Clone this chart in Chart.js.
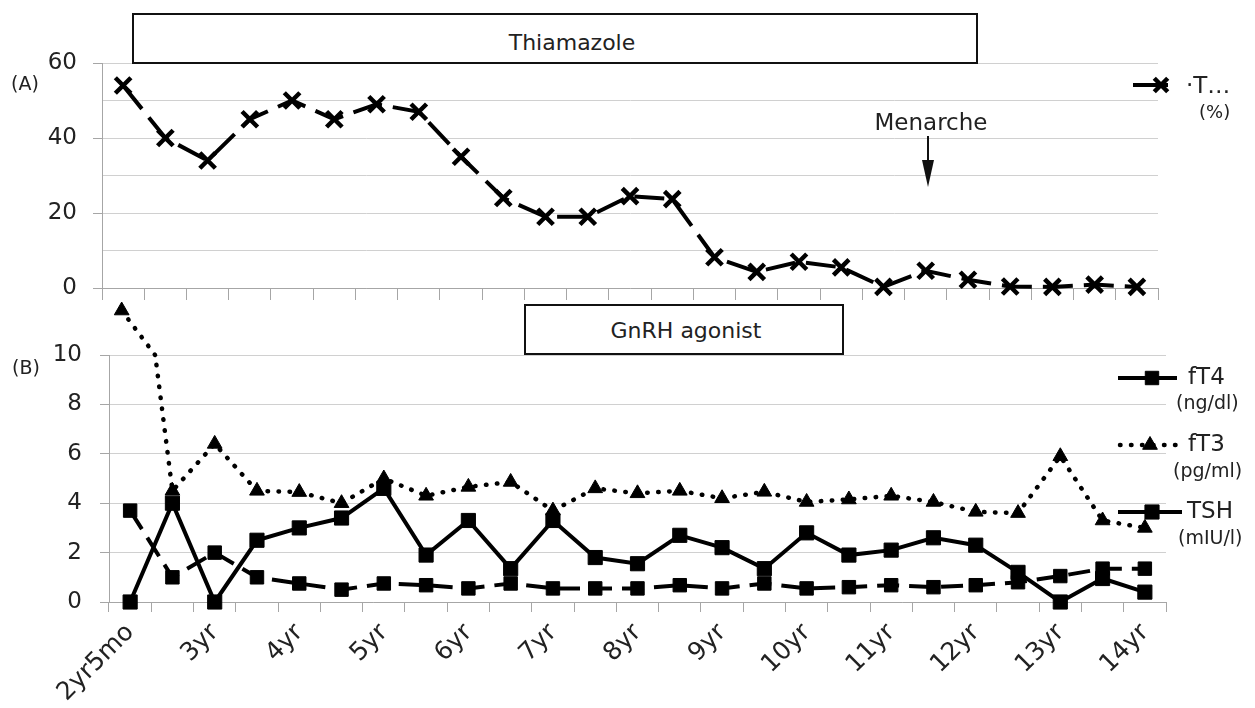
<!DOCTYPE html>
<html>
<head>
<meta charset="utf-8">
<script src="https://cdn.jsdelivr.net/npm/chart.js@4.4.0/dist/chart.umd.min.js"></script>
<style>
  body { margin: 0; background: #fff; }
  #wrap { position: relative; width: 1255px; height: 708px; font-family: "DejaVu Sans", sans-serif; color: #222; }
  canvas { position: absolute; left: 0; top: 0; }
  .box { position: absolute; border: 2px solid #111; box-sizing: border-box; background: #fff; }
  .txt { position: absolute; transform: translate(-50%, -50%); white-space: nowrap; }
</style>
</head>
<body>
<div id="wrap">
  <canvas id="topChart" width="1255" height="708"></canvas>
  <canvas id="bottomChart" width="1255" height="708"></canvas>

  <div class="box" style="left:132px;top:13px;width:846px;height:51px;"></div>
  <div class="txt" style="left:572px;top:42px;font-size:22px;">Thiamazole</div>

  <div class="box" style="left:524px;top:304px;width:320px;height:51px;"></div>
  <div class="txt" style="left:686px;top:330px;font-size:22px;">GnRH agonist</div>

  <div class="txt" style="left:931px;top:122px;font-size:23px;">Menarche</div>
  <svg style="position:absolute;left:918px;top:134px;" width="20" height="56">
    <line x1="10" y1="2" x2="10" y2="30" stroke="#111" stroke-width="2"/>
    <polygon points="4,26 16,26 10,53" fill="#111"/>
  </svg>

  <div class="txt" style="left:25px;top:83px;font-size:19px;">(A)</div>
  <div class="txt" style="left:26px;top:367px;font-size:19px;">(B)</div>
</div>

<script>
// visits (x categories), only every second one is labelled
const visits = ['2yr5mo', '', '3yr', '', '4yr', '', '5yr', '', '6yr', '', '7yr', '', '8yr',
                '', '9yr', '', '10yr', '', '11yr', '', '12yr', '', '13yr', '', '14yr'];

// (A) TRAb (%)
const trab = [54, 40, 34, 45, 50, 45, 49, 47, 35, 24, 19, 19, 24.5, 23.7, 8.2, 4.3, 7, 5.5,
              0.3, 4.6, 2.2, 0.4, 0.3, 0.9, 0.3];

// (B) thyroid values
const fT4 = [3.7, 1.0, 2.0, 1.0, 0.75, 0.5, 0.75, 0.68, 0.55, 0.75, 0.55, 0.55, 0.55, 0.68,
             0.55, 0.75, 0.55, 0.6, 0.68, 0.6, 0.68, 0.8, 1.05, 1.35, 1.35];
const fT3 = [18, 4.5, 6.4, 4.5, 4.45, 4.0, 5.0, 4.3, 4.66, 4.86, 3.7, 4.6, 4.4, 4.5, 4.2,
             4.46, 4.05, 4.15, 4.3, 4.05, 3.65, 3.6, 5.9, 3.3, 3.0];
const tsh = [0, 4.0, 0, 2.5, 3.0, 3.4, 4.6, 1.9, 3.3, 1.35, 3.3, 1.8, 1.55, 2.7, 2.2, 1.35,
             2.8, 1.9, 2.1, 2.6, 2.3, 1.2, 0, 0.95, 0.4];
// first fT3 value is off the axis; the figure marks it above the plot
const fT3Note = [{ x: -0.2, y: 11.8 }, { x: 0.59, y: 10 }];

const FONT = '"DejaVu Sans", sans-serif';
const AXIS = '#a6a6a6';
const GRID = '#d0d0d0';

// legend drawn to the right of the plot, Excel style (line + marker + text)
const sideLegend = {
    id: 'sideLegend',
    afterDatasetsDraw(chart, args, opts) {
        const ctx = chart.ctx;
        ctx.save();
        opts.items.forEach(it => {
            const ds = chart.data.datasets.find(d => d.label === it.label);
            ctx.strokeStyle = ds.borderColor;
            ctx.lineWidth = ds.borderWidth;
            ctx.lineCap = ds.borderCapStyle || 'butt';
            ctx.setLineDash(it.dash || []);
            ctx.beginPath();
            ctx.moveTo(it.x1, it.y);
            ctx.lineTo(it.x2, it.y);
            ctx.stroke();
            ctx.setLineDash([]);
            ctx.lineCap = 'butt';
            ctx.fillStyle = ds.pointBackgroundColor;
            ctx.strokeStyle = ds.pointBorderColor;
            ctx.lineWidth = ds.pointBorderWidth;
            Chart.helpers.drawPoint(ctx, { pointStyle: ds.pointStyle, radius: it.r, rotation: 0, borderWidth: ds.pointBorderWidth }, it.mx, it.y);
            ctx.fillStyle = '#222';
            ctx.textAlign = 'left';
            ctx.textBaseline = 'middle';
            ctx.font = '23px ' + FONT;
            ctx.fillText(it.text, it.tx, it.ty || it.y);
            ctx.font = (it.us || 19) + 'px ' + FONT;
            ctx.fillText(it.unit, it.ux, it.uy);
        });
        ctx.restore();
    }
};

// Chart.js skips points outside the chart area, so draw the off-axis fT3 marker here
const offAxisMarker = {
    id: 'offAxisMarker',
    afterDatasetsDraw(chart) {
        const ctx = chart.ctx;
        const idx = chart.data.datasets.findIndex(d => d.label === 'fT3 note');
        const pt = chart.getDatasetMeta(idx).data[0];
        ctx.save();
        ctx.fillStyle = '#000';
        ctx.strokeStyle = '#000';
        ctx.lineWidth = 1;
        Chart.helpers.drawPoint(ctx, { pointStyle: 'triangle', radius: 8.5, rotation: 0, borderWidth: 1 }, pt.x, pt.y);
        ctx.restore();
    }
};

const topChart = new Chart(document.getElementById('topChart'), {
    type: 'line',
    data: {
        labels: visits,
        datasets: [{
            label: 'TRAb',
            data: trab,
            borderColor: '#000',
            borderWidth: 4,
            borderDash: [30, 11],
            pointStyle: 'crossRot',
            pointRadius: 11,
            pointBorderWidth: 4.5,
            pointBorderColor: '#000',
            pointBackgroundColor: '#000',
            tension: 0,
            clip: false
        }]
    },
    options: {
        responsive: false,
        animation: false,
        layout: { padding: { top: 63, right: 97, bottom: 408, left: 0 } },
        plugins: {
            legend: { display: false },
            tooltip: { enabled: false },
            sideLegend: {
                items: [{ label: 'TRAb', x1: 1133, x2: 1168, mx: 1161, y: 85, r: 9.5,
                          text: '\u00B7T\u2026', tx: 1186, ty: 87, unit: '(%)', ux: 1199, uy: 113, us: 18 }]
            }
        },
        scales: {
            x: {
                offset: true,
                grid: { offset: true, drawOnChartArea: false, tickLength: 12, color: AXIS },
                border: { color: AXIS },
                ticks: { display: false },
                afterFit(s) { s.height = 12; }
            },
            y: {
                min: 0,
                max: 60,
                ticks: {
                    stepSize: 10,
                    callback: v => v % 20 === 0 ? v : '',
                    font: { family: FONT, size: 23 },
                    color: '#222',
                    padding: 16
                },
                grid: {
                    color: GRID,
                    tickLength: 9,
                    tickColor: c => c.tick && c.tick.value % 20 === 0 ? AXIS : 'rgba(0,0,0,0)'
                },
                border: { color: AXIS },
                afterFit(s) { s.width = 102; }
            }
        }
    },
    plugins: [sideLegend]
});

const bottomChart = new Chart(document.getElementById('bottomChart'), {
    type: 'line',
    data: {
        labels: visits,
        datasets: [
            {
                label: 'TSH',
                data: tsh,
                borderColor: '#000',
                borderWidth: 4,
                pointStyle: 'rect',
                pointRadius: 10,
                pointBorderWidth: 1,
                pointBorderColor: '#000',
                pointBackgroundColor: '#000',
                tension: 0,
                clip: false,
                order: 0
            },
            {
                label: 'fT4',
                data: fT4,
                borderColor: '#000',
                borderWidth: 4,
                borderDash: [22, 10],
                pointStyle: 'rect',
                pointRadius: 9.5,
                pointBorderWidth: 1,
                pointBorderColor: '#000',
                pointBackgroundColor: '#000',
                tension: 0,
                clip: false,
                order: 1
            },
            {
                label: 'fT3',
                data: fT3,
                borderColor: '#000',
                borderWidth: 4.5,
                borderDash: [0.5, 10.5],
                borderCapStyle: 'round',
                pointStyle: 'triangle',
                pointRadius: 8.5,
                pointBorderWidth: 1,
                pointBorderColor: '#000',
                pointBackgroundColor: '#000',
                tension: 0,
                clip: { top: 0, left: false, right: false, bottom: false },
                order: 2
            },
            {
                label: 'fT3 note',
                data: fT3Note,
                xAxisID: 'xn',
                borderColor: '#000',
                borderWidth: 4.5,
                borderDash: [0.5, 10.5],
                borderCapStyle: 'round',
                pointRadius: 0,
                tension: 0,
                clip: false,
                order: 3
            }
        ]
    },
    options: {
        responsive: false,
        animation: false,
        layout: { padding: { top: 355, right: 89, bottom: 0, left: 0 } },
        plugins: {
            legend: { display: false },
            tooltip: { enabled: false },
            sideLegend: {
                items: [
                    { label: 'fT4', x1: 1118, x2: 1177, mx: 1152, y: 378, r: 9.5,
                      text: 'fT4', tx: 1188, unit: '(ng/dl)', ux: 1176, uy: 404 },
                    { label: 'fT3', x1: 1120, x2: 1177, mx: 1150, y: 445, r: 8.5, dash: [0.5, 10.5],
                      text: 'fT3', tx: 1188, unit: '(pg/ml)', ux: 1173, uy: 472 },
                    { label: 'TSH', x1: 1118, x2: 1182, mx: 1152, y: 512, r: 10,
                      text: 'TSH', tx: 1187, unit: '(mIU/l)', ux: 1178, uy: 539 }
                ]
            }
        },
        scales: {
            x: {
                offset: true,
                grid: { offset: true, drawOnChartArea: false, tickLength: 10, color: AXIS },
                border: { color: AXIS },
                ticks: {
                    autoSkip: false,
                    minRotation: 45,
                    maxRotation: 45,
                    font: { family: FONT, size: 25 },
                    color: '#222',
                    padding: 6
                },
                afterFit(s) { s.height = 106; }
            },
            xn: {
                type: 'linear',
                display: false,
                min: -0.5,
                max: 24.5
            },
            y: {
                min: 0,
                max: 10,
                ticks: {
                    stepSize: 1,
                    callback: v => v % 2 === 0 ? v : '',
                    font: { family: FONT, size: 23 },
                    color: '#222',
                    padding: 18
                },
                grid: {
                    color: GRID,
                    tickLength: 9,
                    tickColor: c => c.tick && c.tick.value % 2 === 0 ? AXIS : 'rgba(0,0,0,0)'
                },
                border: { color: AXIS },
                afterFit(s) { s.width = 109; }
            }
        }
    },
    plugins: [sideLegend, offAxisMarker]
});
</script>
</body>
</html>
